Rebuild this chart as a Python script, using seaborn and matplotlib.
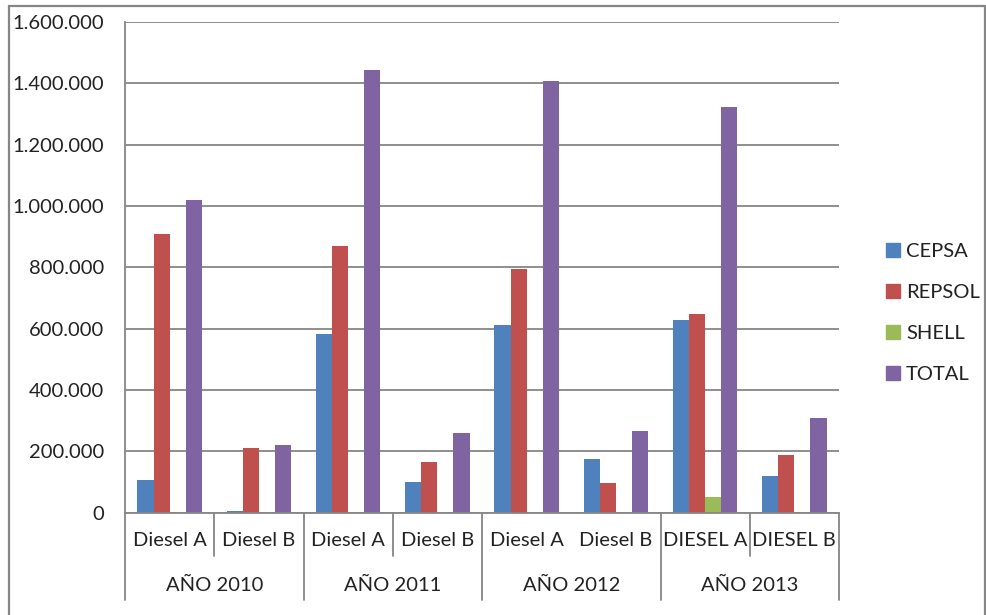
import matplotlib
matplotlib.use("Agg")
import matplotlib.pyplot as plt
import matplotlib.patches as mpatches
from matplotlib.ticker import FuncFormatter
import pandas as pd
import seaborn as sns

# datos
anios = ['AÑO 2010', 'AÑO 2011', 'AÑO 2012', 'AÑO 2013']
combustibles = [['Diesel A', 'Diesel B'], ['Diesel A', 'Diesel B'],
                ['Diesel A', 'Diesel B'], ['DIESEL A', 'DIESEL B']]
empresas = ['CEPSA', 'REPSOL', 'SHELL', 'TOTAL']
cepsa = [105000, 6000, 581000, 98000, 613000, 174000, 627000, 120000]
repsol = [909000, 211000, 869000, 164000, 795000, 95000, 649000, 186000]
shell = [0, 0, 0, 0, 0, 0, 49000, 0]
total = [1019000, 219000, 1445000, 259000, 1409000, 267000, 1324000, 307000]
colores = ['#4F81BD', '#C0504D', '#9BBB59', '#8064A2']

gris = '#868686'
texto = '#222222'
fs = 14.5

# tabla larga para seaborn
claves = []
etiquetas = []
for a, fuels in zip(anios, combustibles):
    for f in fuels:
        claves.append(a + '|' + f)
        etiquetas.append(f)
filas = []
for emp, vals in zip(empresas, [cepsa, repsol, shell, total]):
    for k, v in zip(claves, vals):
        filas.append({'grupo': k, 'empresa': emp, 'valor': v})
df = pd.DataFrame(filas)

sns.set_style('white')
plt.rcParams['font.family'] = ['Lato', 'DejaVu Sans']

fig = plt.figure(figsize=(9.87, 6.15), dpi=100)
ax = fig.add_axes([125 / 987, 1 - 512.5 / 615, (839 - 125) / 987, (512.5 - 22) / 615])

sns.barplot(data=df, x='grupo', y='valor', hue='empresa', order=claves,
            hue_order=empresas, palette=colores, width=0.72, saturation=1,
            edgecolor='none', ax=ax, legend=False)

ax.set_ylim(0, 1600000)
ax.set_xlim(-0.5, len(claves) - 0.5)
ax.set_yticks(range(0, 1600001, 200000))
ax.yaxis.set_major_formatter(FuncFormatter(lambda v, p: f"{int(v):,}".replace(',', '.')))
ax.grid(axis='y', color=gris, lw=1.3)
ax.set_axisbelow(True)
for s in ['top', 'right']:
    ax.spines[s].set_visible(False)
for s in ['left', 'bottom']:
    ax.spines[s].set_color(gris)
    ax.spines[s].set_linewidth(1.3)
ax.tick_params(axis='y', length=7, color=gris, width=1.3, labelsize=fs, labelcolor=texto, pad=8)
ax.set_xlabel('')
ax.set_ylabel('')

# eje de categorias de dos niveles
ax.set_xticks(range(len(claves)))
ax.set_xticklabels(etiquetas)
ax.tick_params(axis='x', length=0, labelsize=fs, labelcolor=texto, pad=14)
tr = ax.get_xaxis_transform()
for i in range(len(anios) + 1):
    ax.plot([2 * i - 0.5, 2 * i - 0.5], [0, -0.178], transform=tr, color=gris,
            lw=1.3, clip_on=False)
for i in range(len(anios)):
    if i != 2:
        ax.plot([2 * i + 0.5, 2 * i + 0.5], [0, -0.089], transform=tr, color=gris,
                lw=1.3, clip_on=False)
    ax.text(2 * i + 0.5, -0.148, anios[i], transform=tr, ha='center', va='center',
            fontsize=fs, color=texto)

# leyenda
handles = [mpatches.Patch(color=c, label=e) for c, e in zip(colores, empresas)]
fig.legend(handles=handles, loc='center left', bbox_to_anchor=(886 / 987, 1 - 313 / 615),
           frameon=False, fontsize=fs, handlelength=0.7, handleheight=0.7,
           handletextpad=0.3, labelspacing=1.2, labelcolor=texto, borderaxespad=0,
           borderpad=0)

# marco exterior
fig.add_artist(mpatches.Rectangle((9 / 987, -0.05), (985 - 9) / 987, 1 - 6 / 615 + 0.05,
                                  transform=fig.transFigure, fill=False,
                                  edgecolor=gris, lw=1.6))

fig.savefig('out.png', dpi=100)
